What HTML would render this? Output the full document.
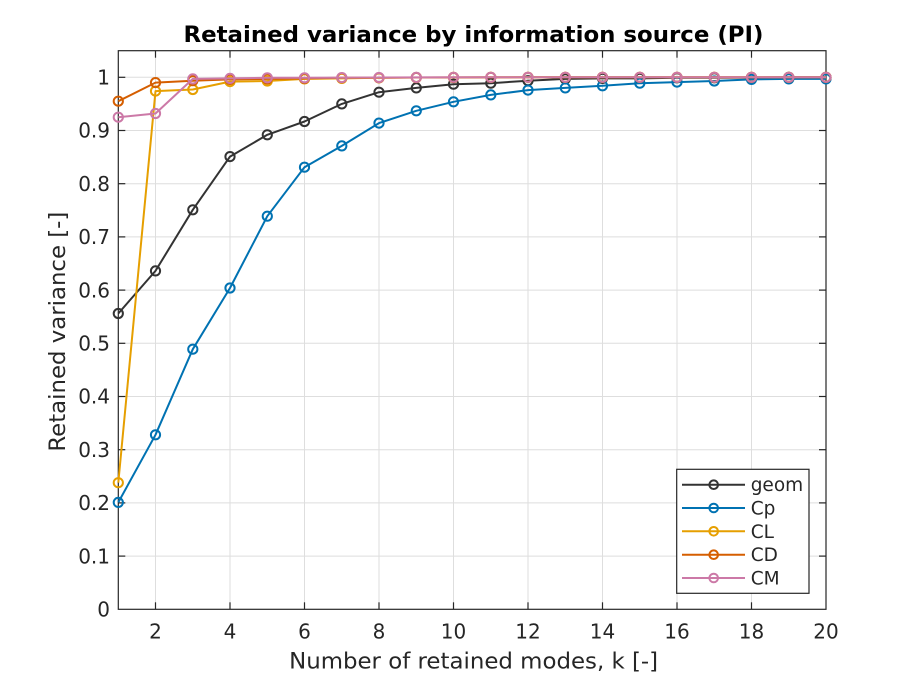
<!DOCTYPE html>
<html>
<head>
<meta charset="utf-8">
<style>
html,body{margin:0;padding:0;background:#fff;}
svg{display:block;}
text{font-family:"DejaVu Sans","Liberation Sans",sans-serif;fill:#262626;}
</style>
</head>
<body>
<svg width="913" height="685" viewBox="0 0 913 685" xmlns="http://www.w3.org/2000/svg">
<rect x="0" y="0" width="913" height="685" fill="#fff"/>
<!-- plot area background -->
<rect x="118.3" y="50.7" width="707.7" height="558.6" fill="#fff"/>
<!-- grid -->
<g stroke="#dedede" stroke-width="1">
<line x1="155.5" y1="50.7" x2="155.5" y2="609.3"/>
<line x1="230.0" y1="50.7" x2="230.0" y2="609.3"/>
<line x1="304.5" y1="50.7" x2="304.5" y2="609.3"/>
<line x1="379.0" y1="50.7" x2="379.0" y2="609.3"/>
<line x1="453.5" y1="50.7" x2="453.5" y2="609.3"/>
<line x1="528.0" y1="50.7" x2="528.0" y2="609.3"/>
<line x1="602.5" y1="50.7" x2="602.5" y2="609.3"/>
<line x1="677.0" y1="50.7" x2="677.0" y2="609.3"/>
<line x1="751.5" y1="50.7" x2="751.5" y2="609.3"/>
<line x1="118.3" y1="556.1" x2="826" y2="556.1"/>
<line x1="118.3" y1="502.9" x2="826" y2="502.9"/>
<line x1="118.3" y1="449.7" x2="826" y2="449.7"/>
<line x1="118.3" y1="396.5" x2="826" y2="396.5"/>
<line x1="118.3" y1="343.3" x2="826" y2="343.3"/>
<line x1="118.3" y1="290.1" x2="826" y2="290.1"/>
<line x1="118.3" y1="236.9" x2="826" y2="236.9"/>
<line x1="118.3" y1="183.7" x2="826" y2="183.7"/>
<line x1="118.3" y1="130.5" x2="826" y2="130.5"/>
<line x1="118.3" y1="77.3" x2="826" y2="77.3"/>
</g>

<!-- axes box -->
<rect x="118.3" y="50.7" width="707.7" height="558.6" fill="none" stroke="#262626" stroke-width="1.2"/>
<!-- ticks -->
<g stroke="#262626" stroke-width="1.2">
<!-- x ticks bottom & top -->
<line x1="155.5" y1="609.3" x2="155.5" y2="602.3"/><line x1="155.5" y1="50.7" x2="155.5" y2="57.7"/>
<line x1="230.0" y1="609.3" x2="230.0" y2="602.3"/><line x1="230.0" y1="50.7" x2="230.0" y2="57.7"/>
<line x1="304.5" y1="609.3" x2="304.5" y2="602.3"/><line x1="304.5" y1="50.7" x2="304.5" y2="57.7"/>
<line x1="379.0" y1="609.3" x2="379.0" y2="602.3"/><line x1="379.0" y1="50.7" x2="379.0" y2="57.7"/>
<line x1="453.5" y1="609.3" x2="453.5" y2="602.3"/><line x1="453.5" y1="50.7" x2="453.5" y2="57.7"/>
<line x1="528.0" y1="609.3" x2="528.0" y2="602.3"/><line x1="528.0" y1="50.7" x2="528.0" y2="57.7"/>
<line x1="602.5" y1="609.3" x2="602.5" y2="602.3"/><line x1="602.5" y1="50.7" x2="602.5" y2="57.7"/>
<line x1="677.0" y1="609.3" x2="677.0" y2="602.3"/><line x1="677.0" y1="50.7" x2="677.0" y2="57.7"/>
<line x1="751.5" y1="609.3" x2="751.5" y2="602.3"/><line x1="751.5" y1="50.7" x2="751.5" y2="57.7"/>
<!-- y ticks left & right -->
<line x1="118.3" y1="556.1" x2="125.3" y2="556.1"/><line x1="826" y1="556.1" x2="819" y2="556.1"/>
<line x1="118.3" y1="502.9" x2="125.3" y2="502.9"/><line x1="826" y1="502.9" x2="819" y2="502.9"/>
<line x1="118.3" y1="449.7" x2="125.3" y2="449.7"/><line x1="826" y1="449.7" x2="819" y2="449.7"/>
<line x1="118.3" y1="396.5" x2="125.3" y2="396.5"/><line x1="826" y1="396.5" x2="819" y2="396.5"/>
<line x1="118.3" y1="343.3" x2="125.3" y2="343.3"/><line x1="826" y1="343.3" x2="819" y2="343.3"/>
<line x1="118.3" y1="290.1" x2="125.3" y2="290.1"/><line x1="826" y1="290.1" x2="819" y2="290.1"/>
<line x1="118.3" y1="236.9" x2="125.3" y2="236.9"/><line x1="826" y1="236.9" x2="819" y2="236.9"/>
<line x1="118.3" y1="183.7" x2="125.3" y2="183.7"/><line x1="826" y1="183.7" x2="819" y2="183.7"/>
<line x1="118.3" y1="130.5" x2="125.3" y2="130.5"/><line x1="826" y1="130.5" x2="819" y2="130.5"/>
<line x1="118.3" y1="77.3" x2="125.3" y2="77.3"/><line x1="826" y1="77.3" x2="819" y2="77.3"/>
</g>

<!-- series -->
<g fill="none" stroke-width="2" stroke-linejoin="round">
<!-- geom -->
<g stroke="#333333">
<polyline points="118.3,313.5 155.5,270.9 192.8,209.8 230.0,156.6 267.3,134.8 304.5,121.5 341.8,103.9 379.0,92.2 416.3,87.9 453.5,84.2 490.8,83.2 528.0,80.7 565.3,78.9 602.5,78.4 639.8,78.4 677.0,77.8 714.3,77.8 751.5,77.6 788.8,77.3 826.0,77.3"/>
<circle cx="118.3" cy="313.5" r="4.6"/><circle cx="155.5" cy="270.9" r="4.6"/><circle cx="192.8" cy="209.8" r="4.6"/><circle cx="230.0" cy="156.6" r="4.6"/><circle cx="267.3" cy="134.8" r="4.6"/><circle cx="304.5" cy="121.5" r="4.6"/><circle cx="341.8" cy="103.9" r="4.6"/><circle cx="379.0" cy="92.2" r="4.6"/><circle cx="416.3" cy="87.9" r="4.6"/><circle cx="453.5" cy="84.2" r="4.6"/><circle cx="490.8" cy="83.2" r="4.6"/><circle cx="528.0" cy="80.7" r="4.6"/><circle cx="565.3" cy="78.9" r="4.6"/><circle cx="602.5" cy="78.4" r="4.6"/><circle cx="639.8" cy="78.4" r="4.6"/><circle cx="677.0" cy="77.8" r="4.6"/><circle cx="714.3" cy="77.8" r="4.6"/><circle cx="751.5" cy="77.6" r="4.6"/><circle cx="788.8" cy="77.3" r="4.6"/><circle cx="826.0" cy="77.3" r="4.6"/>
</g>
<!-- Cp -->
<g stroke="#0072B2">
<polyline points="118.3,502.4 155.5,434.8 192.8,349.2 230.0,288.0 267.3,216.2 304.5,167.2 341.8,145.9 379.0,123.1 416.3,110.8 453.5,101.8 490.8,94.9 528.0,90.1 565.3,87.9 602.5,85.8 639.8,83.2 677.0,82.1 714.3,81.0 751.5,79.4 788.8,78.9 826.0,78.9"/>
<circle cx="118.3" cy="502.4" r="4.6"/><circle cx="155.5" cy="434.8" r="4.6"/><circle cx="192.8" cy="349.2" r="4.6"/><circle cx="230.0" cy="288.0" r="4.6"/><circle cx="267.3" cy="216.2" r="4.6"/><circle cx="304.5" cy="167.2" r="4.6"/><circle cx="341.8" cy="145.9" r="4.6"/><circle cx="379.0" cy="123.1" r="4.6"/><circle cx="416.3" cy="110.8" r="4.6"/><circle cx="453.5" cy="101.8" r="4.6"/><circle cx="490.8" cy="94.9" r="4.6"/><circle cx="528.0" cy="90.1" r="4.6"/><circle cx="565.3" cy="87.9" r="4.6"/><circle cx="602.5" cy="85.8" r="4.6"/><circle cx="639.8" cy="83.2" r="4.6"/><circle cx="677.0" cy="82.1" r="4.6"/><circle cx="714.3" cy="81.0" r="4.6"/><circle cx="751.5" cy="79.4" r="4.6"/><circle cx="788.8" cy="78.9" r="4.6"/><circle cx="826.0" cy="78.9" r="4.6"/>
</g>
<!-- CL -->
<g stroke="#E69F00">
<polyline points="118.3,482.7 155.5,91.1 192.8,89.5 230.0,81.6 267.3,81.0 304.5,78.9 341.8,78.4 379.0,77.8 416.3,77.5 453.5,77.4 490.8,77.3 528.0,77.3 565.3,77.3 602.5,77.3 639.8,77.3 677.0,77.3 714.3,77.3 751.5,77.3 788.8,77.3 826.0,77.3"/>
<circle cx="118.3" cy="482.7" r="4.6"/><circle cx="155.5" cy="91.1" r="4.6"/><circle cx="192.8" cy="89.5" r="4.6"/><circle cx="230.0" cy="81.6" r="4.6"/><circle cx="267.3" cy="81.0" r="4.6"/><circle cx="304.5" cy="78.9" r="4.6"/><circle cx="341.8" cy="78.4" r="4.6"/><circle cx="379.0" cy="77.8" r="4.6"/><circle cx="416.3" cy="77.5" r="4.6"/><circle cx="453.5" cy="77.4" r="4.6"/><circle cx="490.8" cy="77.3" r="4.6"/><circle cx="528.0" cy="77.3" r="4.6"/><circle cx="565.3" cy="77.3" r="4.6"/><circle cx="602.5" cy="77.3" r="4.6"/><circle cx="639.8" cy="77.3" r="4.6"/><circle cx="677.0" cy="77.3" r="4.6"/><circle cx="714.3" cy="77.3" r="4.6"/><circle cx="751.5" cy="77.3" r="4.6"/><circle cx="788.8" cy="77.3" r="4.6"/><circle cx="826.0" cy="77.3" r="4.6"/>
</g>
<!-- CD -->
<g stroke="#D55E00">
<polyline points="118.3,101.2 155.5,82.6 192.8,80.7 230.0,79.4 267.3,78.9 304.5,78.4 341.8,77.8 379.0,77.8 416.3,77.5 453.5,77.5 490.8,77.4 528.0,77.3 565.3,77.3 602.5,77.3 639.8,77.3 677.0,77.3 714.3,77.3 751.5,77.3 788.8,77.3 826.0,77.3"/>
<circle cx="118.3" cy="101.2" r="4.6"/><circle cx="155.5" cy="82.6" r="4.6"/><circle cx="192.8" cy="80.7" r="4.6"/><circle cx="230.0" cy="79.4" r="4.6"/><circle cx="267.3" cy="78.9" r="4.6"/><circle cx="304.5" cy="78.4" r="4.6"/><circle cx="341.8" cy="77.8" r="4.6"/><circle cx="379.0" cy="77.8" r="4.6"/><circle cx="416.3" cy="77.5" r="4.6"/><circle cx="453.5" cy="77.5" r="4.6"/><circle cx="490.8" cy="77.4" r="4.6"/><circle cx="528.0" cy="77.3" r="4.6"/><circle cx="565.3" cy="77.3" r="4.6"/><circle cx="602.5" cy="77.3" r="4.6"/><circle cx="639.8" cy="77.3" r="4.6"/><circle cx="677.0" cy="77.3" r="4.6"/><circle cx="714.3" cy="77.3" r="4.6"/><circle cx="751.5" cy="77.3" r="4.6"/><circle cx="788.8" cy="77.3" r="4.6"/><circle cx="826.0" cy="77.3" r="4.6"/>
</g>
<!-- CM -->
<g stroke="#CC79A7">
<polyline points="118.3,117.2 155.5,113.5 192.8,78.9 230.0,78.4 267.3,77.8 304.5,77.8 341.8,77.6 379.0,77.5 416.3,77.4 453.5,77.3 490.8,77.3 528.0,77.3 565.3,77.3 602.5,77.3 639.8,77.3 677.0,77.3 714.3,77.3 751.5,77.3 788.8,77.3 826.0,77.3"/>
<circle cx="118.3" cy="117.2" r="4.6"/><circle cx="155.5" cy="113.5" r="4.6"/><circle cx="192.8" cy="78.9" r="4.6"/><circle cx="230.0" cy="78.4" r="4.6"/><circle cx="267.3" cy="77.8" r="4.6"/><circle cx="304.5" cy="77.8" r="4.6"/><circle cx="341.8" cy="77.6" r="4.6"/><circle cx="379.0" cy="77.5" r="4.6"/><circle cx="416.3" cy="77.4" r="4.6"/><circle cx="453.5" cy="77.3" r="4.6"/><circle cx="490.8" cy="77.3" r="4.6"/><circle cx="528.0" cy="77.3" r="4.6"/><circle cx="565.3" cy="77.3" r="4.6"/><circle cx="602.5" cy="77.3" r="4.6"/><circle cx="639.8" cy="77.3" r="4.6"/><circle cx="677.0" cy="77.3" r="4.6"/><circle cx="714.3" cy="77.3" r="4.6"/><circle cx="751.5" cy="77.3" r="4.6"/><circle cx="788.8" cy="77.3" r="4.6"/><circle cx="826.0" cy="77.3" r="4.6"/>
</g>
</g>

<!-- y tick labels -->
<g font-size="20" text-anchor="end">
<text x="110" y="616.5">0</text>
<text x="110" y="563.3">0.1</text>
<text x="110" y="510.1">0.2</text>
<text x="110" y="456.9">0.3</text>
<text x="110" y="403.7">0.4</text>
<text x="110" y="350.5">0.5</text>
<text x="110" y="297.3">0.6</text>
<text x="110" y="244.1">0.7</text>
<text x="110" y="190.9">0.8</text>
<text x="110" y="137.7">0.9</text>
<text x="110" y="84.5">1</text>
</g>
<!-- x tick labels -->
<g font-size="20" text-anchor="middle">
<text x="155.5" y="638.5">2</text>
<text x="230.0" y="638.5">4</text>
<text x="304.5" y="638.5">6</text>
<text x="379.0" y="638.5">8</text>
<text x="453.5" y="638.5">10</text>
<text x="528.0" y="638.5">12</text>
<text x="602.5" y="638.5">14</text>
<text x="677.0" y="638.5">16</text>
<text x="751.5" y="638.5">18</text>
<text x="826.0" y="638.5">20</text>
</g>

<!-- axis labels -->
<text x="473.6" y="668.3" font-size="22" text-anchor="middle" textLength="369" lengthAdjust="spacingAndGlyphs">Number of retained modes, k [-]</text>
<text transform="translate(65,331.7) rotate(-90)" x="0" y="0" font-size="22" text-anchor="middle" textLength="240" lengthAdjust="spacingAndGlyphs">Retained variance [-]</text>
<!-- title -->
<text x="473.5" y="41.8" font-size="22" font-weight="bold" text-anchor="middle" fill="#000" style="fill:#000" textLength="580" lengthAdjust="spacingAndGlyphs">Retained variance by information source (PI)</text>

<!-- legend -->
<rect x="676.7" y="469.3" width="132.3" height="124" fill="#fff" stroke="#262626" stroke-width="1.2"/>
<g fill="none" stroke-width="2">
<line x1="682" y1="484.7" x2="745" y2="484.7" stroke="#333333"/><circle cx="713.7" cy="484.7" r="4.3" stroke="#333333"/>
<line x1="682" y1="508" x2="745" y2="508" stroke="#0072B2"/><circle cx="713.7" cy="508" r="4.3" stroke="#0072B2"/>
<line x1="682" y1="531.3" x2="745" y2="531.3" stroke="#E69F00"/><circle cx="713.7" cy="531.3" r="4.3" stroke="#E69F00"/>
<line x1="682" y1="554.7" x2="745" y2="554.7" stroke="#D55E00"/><circle cx="713.7" cy="554.7" r="4.3" stroke="#D55E00"/>
<line x1="682" y1="578" x2="745" y2="578" stroke="#CC79A7"/><circle cx="713.7" cy="578" r="4.3" stroke="#CC79A7"/>
</g>
<g font-size="18.5">
<text x="750.7" y="491.2">geom</text>
<text x="750.7" y="514.5">Cp</text>
<text x="750.7" y="537.8">CL</text>
<text x="750.7" y="561.2">CD</text>
<text x="750.7" y="584.5">CM</text>
</g>
</svg>
</body>
</html>
